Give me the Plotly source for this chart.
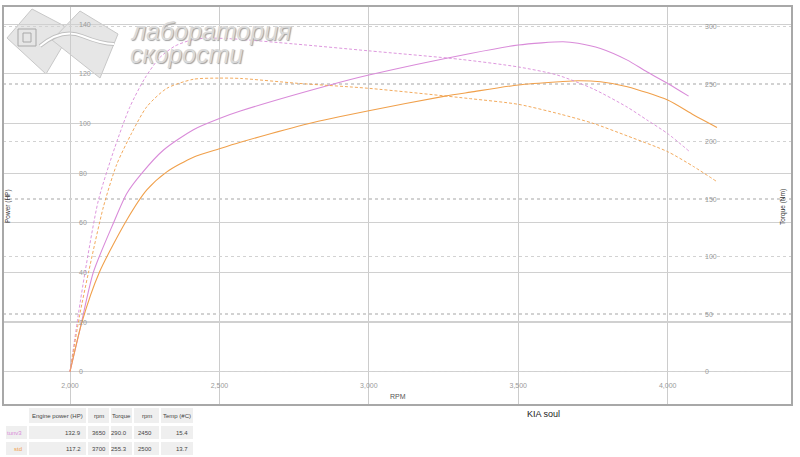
import plotly.graph_objects as go

W, H = 800, 457

# ---------------- data ----------------
tunv3_power_rpm = [2000, 2035, 2078, 2145, 2190, 2240, 2313, 2413, 2500, 2570, 2870, 3000,
                   3340, 3500, 3650, 3700, 3775, 3865, 3930, 4000, 4070]
tunv3_power = [0, 18, 40, 59.8, 71.8, 79.9, 89.3, 97.5, 102.0, 105.0, 115.5, 119.5,
               128.2, 131.6, 132.9, 132.3, 130.2, 125.5, 120.8, 116.1, 111.0]

tunv3_torque_rpm = [2000, 2028, 2050, 2095, 2150, 2200, 2250, 2300, 2350, 2400, 2450, 2540,
                    2750, 3000, 3310, 3500, 3630, 3750, 3865, 3930, 4000, 4075]
tunv3_torque = [0, 50, 86, 149, 195, 230, 255, 273, 283, 288, 290.0, 289.5,
                285, 279, 271.5, 265, 258, 246, 230, 219, 207, 191]

std_power_rpm = [2000, 2040, 2098, 2190, 2257, 2324, 2413, 2500, 2570, 2800, 3000, 3255,
                 3340, 3500, 3640, 3700, 3775, 3865, 4000, 4087, 4165]
std_power = [0, 20, 40, 61.1, 73.2, 80.5, 86.4, 89.8, 92.4, 100.0, 105.1, 111.0,
             112.6, 115.5, 116.8, 117.2, 116.8, 114.8, 109.4, 103.4, 98.4]

std_torque_rpm = [2000, 2033, 2062, 2112, 2156, 2206, 2257, 2324, 2413, 2500, 2570, 2760,
                  3000, 3340, 3500, 3640, 3750, 3865, 4000, 4087, 4165]
std_torque = [0, 50, 86.4, 143.5, 180, 207.3, 230.4, 246.4, 254.3, 255.3, 255.0, 250.8,
              246.4, 237.4, 232.5, 224.0, 216.0, 205.0, 191.3, 178.3, 165.2]

rpm_ticks = [2000, 2500, 3000, 3500, 4000]
rpm_labels = ["2,000", "2,500", "3,000", "3,500", "4,000"]
power_ticks = [0, 20, 40, 60, 80, 100, 120, 140]
torque_ticks = [0, 50, 100, 150, 200, 250, 300]

table_header = ["", "Engine power (HP)", "rpm", "Torque", "rpm", "Temp (#C)"]
run_names = ["tunv3", "std"]
max_power = ["132.9", "117.2"]
max_power_rpm = ["3650", "3700"]
max_torque = ["290.0", "255.3"]
max_torque_rpm = ["2450", "2500"]
temps = ["15.4", "13.7"]

PINK = "#d98bd9"
ORANGE = "#f0a04b"

# ---------------- helpers (pixel -> paper) ----------------
def px(x):
    return x / W

def py(y):
    return 1 - y / H

fig = go.Figure()

line_spec = dict(shape="spline", smoothing=0.7)
fig.add_trace(go.Scatter(x=tunv3_power_rpm, y=tunv3_power, mode="lines", name="tunv3 power",
                         line=dict(color=PINK, width=1.1, **line_spec), yaxis="y"))
fig.add_trace(go.Scatter(x=std_power_rpm, y=std_power, mode="lines", name="std power",
                         line=dict(color=ORANGE, width=1.1, **line_spec), yaxis="y"))
fig.add_trace(go.Scatter(x=tunv3_torque_rpm, y=tunv3_torque, mode="lines", name="tunv3 torque",
                         line=dict(color=PINK, width=0.9, dash="3px,2px", **line_spec), yaxis="y2"))
fig.add_trace(go.Scatter(x=std_torque_rpm, y=std_torque, mode="lines", name="std torque",
                         line=dict(color=ORANGE, width=0.9, dash="3px,2px", **line_spec), yaxis="y2"))

tickfont = dict(family="Liberation Sans", size=7, color="#9a9a9a")

fig.update_layout(
    width=W, height=H,
    margin=dict(l=0, r=0, t=0, b=0, autoexpand=False),
    paper_bgcolor="white", plot_bgcolor="white",
    showlegend=False, hovermode=False,
    xaxis=dict(domain=[px(3), px(792)], range=[1775.8, 4416],
               tickvals=rpm_ticks, ticktext=rpm_labels,
               showgrid=True, gridcolor="#cccccc", gridwidth=1,
               zeroline=False, showline=False, ticks="",
               anchor="free", position=py(372), side="bottom",
               ticklabelstandoff=8, tickfont=tickfont),
    yaxis=dict(domain=[py(405), py(6)], range=[-13.4, 147.3],
               tickvals=power_ticks,
               showgrid=True, gridcolor="#d0d0d0", gridwidth=1.2,
               zeroline=False, showline=False, ticks="",
               anchor="free", position=px(70), side="right",
               ticklabelstandoff=8, tickfont=tickfont),
    yaxis2=dict(overlaying="y", range=[-29.0, 318.0],
                tickvals=torque_ticks,
                showgrid=True, gridcolor="#d2d2d2", gridwidth=1.5, griddash="dot",
                zeroline=False, showline=False, ticks="",
                anchor="free", position=px(702), side="right",
                ticklabelstandoff=2, tickfont=tickfont),
)

# frame
fig.add_shape(type="rect", xref="paper", yref="paper",
              x0=px(3), x1=px(792), y0=py(405), y1=py(6),
              line=dict(color="#a8a8a8", width=2), layer="above")

# ---------------- watermark logo ----------------
def poly(points):
    return "M " + " L ".join(f"{px(x):.5f},{py(y):.5f}" for x, y in points) + " Z"

fig.add_shape(type="path", xref="paper", yref="paper",
              path=poly([(7, 38), (32, 9), (72, 30), (46, 74)]),
              fillcolor="#e6e6e6", line=dict(color="#c8c8c8", width=1), layer="below")
fig.add_shape(type="path", xref="paper", yref="paper",
              path=poly([(52, 40), (80, 11), (118, 34), (100, 78)]),
              fillcolor="#e6e6e6", line=dict(color="#c8c8c8", width=1), layer="below")
road = (f"M {px(40):.5f},{py(46):.5f} Q {px(62):.5f},{py(28):.5f} {px(82):.5f},{py(36):.5f} "
        f"T {px(114):.5f},{py(44):.5f}")
fig.add_shape(type="path", xref="paper", yref="paper", path=road,
              line=dict(color="#c0c0c0", width=4), layer="below")
fig.add_shape(type="path", xref="paper", yref="paper", path=road,
              line=dict(color="white", width=2), layer="below")
fig.add_shape(type="rect", xref="paper", yref="paper",
              x0=px(18), x1=px(36), y0=py(46), y1=py(29),
              fillcolor="#e6e6e6", line=dict(color="#a8a8a8", width=1), layer="below")
fig.add_shape(type="rect", xref="paper", yref="paper",
              x0=px(23), x1=px(31), y0=py(42), y1=py(33),
              line=dict(color="#a8a8a8", width=1), layer="below")

logo_font = dict(family="Liberation Sans", size=25, color="#dadada",
                 style="italic", shadow="1px 1px 1px #a0a0a0")
fig.add_annotation(x=px(128), y=py(31), xref="paper", yref="paper", text="лаборатория",
                   showarrow=False, xanchor="left", yanchor="middle", font=logo_font)
fig.add_annotation(x=px(128), y=py(54), xref="paper", yref="paper", text="скорости",
                   showarrow=False, xanchor="left", yanchor="middle", font=logo_font)

# ---------------- axis titles and captions ----------------
small = dict(family="Liberation Sans", size=6.5, color="#333")
fig.add_annotation(x=px(8), y=py(206), xref="paper", yref="paper", text="Power (HP)",
                   textangle=-90, showarrow=False, font=small, xanchor="center", yanchor="middle")
fig.add_annotation(x=px(783), y=py(207), xref="paper", yref="paper", text="Torque (Nm)",
                   textangle=-90, showarrow=False, font=small, xanchor="center", yanchor="middle")
fig.add_annotation(x=px(398), y=py(396), xref="paper", yref="paper", text="RPM",
                   showarrow=False, xanchor="center", yanchor="middle",
                   font=dict(family="Liberation Sans", size=7, color="#555"))
fig.add_annotation(x=px(543), y=py(414), xref="paper", yref="paper", text="KIA soul",
                   showarrow=False, xanchor="center", yanchor="middle",
                   font=dict(family="Liberation Sans", size=9, color="#222"))

# ---------------- summary table (cells built from the data lists) ----------------
col_edges = [(6, 27), (29, 86), (88, 109), (111, 132), (134, 159), (161, 193)]
col_align = ["right", "right", "left", "right", "left", "right"]
header_row = (408, 423)
body_rows = [(426, 439), (442, 455)]
columns = [run_names, max_power, max_power_rpm, max_torque, max_torque_rpm, temps]
row_colors = [PINK, ORANGE]
tfont = dict(family="Liberation Sans", size=6, color="#444")
CELL = "#efefef"

for ci, (x0, x1) in enumerate(col_edges):
    if table_header[ci]:
        fig.add_shape(type="rect", xref="paper", yref="paper",
                      x0=px(x0), x1=px(x1), y0=py(header_row[1]), y1=py(header_row[0]),
                      fillcolor=CELL, line=dict(width=0), layer="below")
        fig.add_annotation(x=px((x0 + x1) / 2), y=py(sum(header_row) / 2), xref="paper", yref="paper",
                           text=table_header[ci], showarrow=False, font=tfont,
                           xanchor="center", yanchor="middle")
    for ri, (y0, y1) in enumerate(body_rows):
        fig.add_shape(type="rect", xref="paper", yref="paper",
                      x0=px(x0), x1=px(x1), y0=py(y1), y1=py(y0),
                      fillcolor=CELL, line=dict(width=0), layer="below")
        align = col_align[ci]
        ax = x1 - 3 if align == "right" else x0 + 2
        color = row_colors[ri] if ci == 0 else "#444"
        fig.add_annotation(x=px(ax), y=py((y0 + y1) / 2), xref="paper", yref="paper",
                           text=columns[ci][ri], showarrow=False,
                           font=dict(family="Liberation Sans", size=6, color=color),
                           xanchor=align, yanchor="middle")

fig.write_html("out.html", config={"displayModeBar": False, "staticPlot": True},
               post_script="document.body.style.margin='0';document.body.style.overflow='hidden';")
